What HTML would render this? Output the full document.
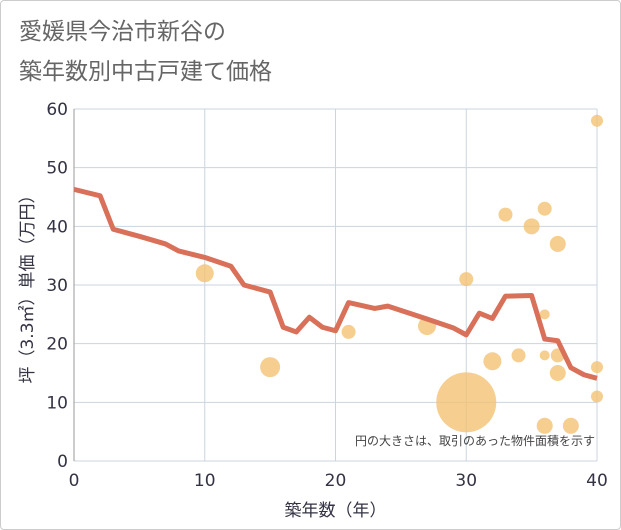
<!DOCTYPE html>
<html><head><meta charset="utf-8"><style>
body{margin:0;background:#fff;}
#wrap{position:relative;width:621px;height:530px;box-sizing:border-box;border:1px solid #ccc;border-radius:4px;background:#fff;overflow:hidden;font-family:"Liberation Sans","Noto Sans CJK JP",sans-serif;}
.t{position:absolute;left:18px;font-size:23px;color:#666;line-height:1;}
</style></head><body>
<div id="wrap">
<div class="t" style="top:19px">愛媛県今治市新谷の</div>
<div class="t" style="top:59px">築年数別中古戸建て価格</div>
<svg id="svg" width="621" height="530" style="position:absolute;left:0;top:0;font-family:'DejaVu Sans','Noto Sans CJK JP',sans-serif"></svg>
</div>
<script>
const lineYears=[0,2,3,5,7,8,10,12,13,15,16,17,18,19,20,21,23,24,27,29,30,31,32,33,35,36,37,38,39,40];
const linePrices=[46.3,45.2,39.5,38.3,37.0,35.8,34.7,33.2,30.0,28.8,22.8,22.0,24.5,22.8,22.2,27.0,26.0,26.4,24.2,22.7,21.5,25.2,24.3,28.1,28.2,20.8,20.5,15.9,14.7,14.1];
const bubbleYears=[10,15,21,27,30,30,32,33,34,35,36,36,36,36,37,37,37,38,40,40,40];
const bubblePrices=[32,16,22,23,31,10,17,42,18,40,43,25,18,6,37,18,15,6,58,16,11];
const bubbleSizes=[9,10,7,9,7,30,9,7,7,8,7,5,5,8,8,7,8,8,6,6,6];
const xTicks=[0,10,20,30,40];
const yTicks=[0,10,20,30,40,50,60];
const NS='http://www.w3.org/2000/svg';
const svg=document.getElementById('svg');
const X0=73,X1=596,Y0=460,Y1=108;
const sx=v=>X0+(X1-X0)*v/40, sy=v=>Y0-(Y0-Y1)*v/60;
function mk(tag,attrs,parent){const e=document.createElementNS(NS,tag);for(const k in attrs)e.setAttribute(k,attrs[k]);(parent||svg).appendChild(e);return e;}
const grid=mk('g',{});


yTicks.forEach(v=>{
 const l=mk('line',{x1:X0,x2:X1,y1:sy(v),y2:sy(v),stroke:'#c9d5e0','stroke-width':1},grid);
 
 
 const t=mk('text',{x:X0-6,y:sy(v)+6,'text-anchor':'end','font-size':17,fill:'#334'});
 t.textContent=v;
 
 
});
xTicks.forEach(v=>{
 const l=mk('line',{x1:sx(v),x2:sx(v),y1:Y1,y2:Y0,stroke:'#c9d5e0','stroke-width':1},grid);
 
 
 const t=mk('text',{x:sx(v),y:Y0+25,'text-anchor':'middle','font-size':17,fill:'#334'});
 t.textContent=v;
 
 
});
const ax=mk('line',{x1:X0,x2:X0,y1:Y1,y2:Y0,stroke:'#999','stroke-width':1});


const bg=mk('g',{});


bubbleYears.forEach((y,i)=>{
 const c=mk('circle',{cx:sx(y),cy:sy(bubblePrices[i]),r:bubbleSizes[i],fill:'#f2c274','fill-opacity':0.8},bg);
 
 
});
const pl=mk('polyline',{points:lineYears.map((y,i)=>sx(y)+','+sy(linePrices[i])).join(' '),fill:'none',stroke:'#d9705a','stroke-width':5,'stroke-linejoin':'round'});


const note=mk('text',{x:594,y:444,'text-anchor':'end','font-size':12,fill:'#444'});
note.textContent='円の大きさは、取引のあった物件面積を示す';


const xt=mk('text',{x:(X0+X1)/2,y:515,'text-anchor':'middle','font-size':17,fill:'#334'});
xt.textContent='築年数（年）';


const yt=mk('text',{x:0,y:0,'text-anchor':'middle','font-size':17,fill:'#334',transform:'translate(32,284) rotate(-90)'});
yt.textContent='坪（3.3㎡）単価（万円）';


</script>
</body></html>
